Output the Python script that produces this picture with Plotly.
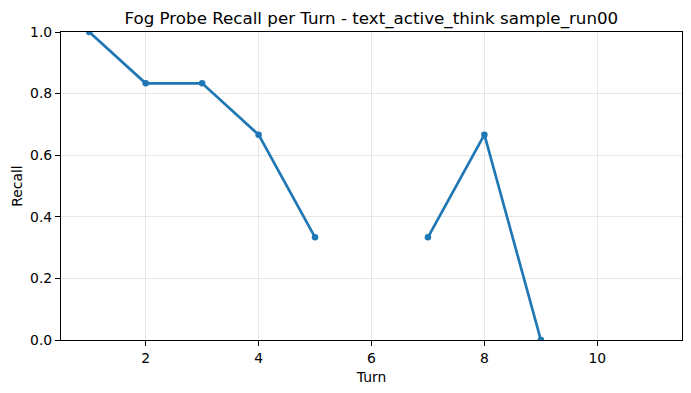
import plotly.graph_objects as go

turns = [1, 2, 3, 4, 5, 6, 7, 8, 9, 10, 11]
recall = [1.0, 0.8333, 0.8333, 0.6667, 0.3333, None, 0.3333, 0.6667, 0.0, None, None]

fig = go.Figure()
fig.add_trace(go.Scatter(
    x=turns, y=recall, mode="lines+markers",
    line=dict(color="#1f77b4", width=2.7),
    marker=dict(color="#1f77b4", size=6.5),
    connectgaps=False, showlegend=False,
))

axis_common = dict(
    showline=True, linecolor="black", linewidth=1.1, mirror=True,
    ticks="outside", ticklen=5, tickwidth=1.1, tickcolor="black",
    showgrid=True, gridcolor="rgba(176,176,176,0.3)", gridwidth=1,
    zeroline=False,
    tickfont=dict(family="DejaVu Sans", size=13.9, color="black"),
)

fig.update_layout(
    width=691, height=393,
    margin=dict(l=61, r=9, t=32, b=53),
    plot_bgcolor="white", paper_bgcolor="white",
    title=dict(text="Fog Probe Recall per Turn - text_active_think sample_run00",
               font=dict(family="DejaVu Sans", size=16.7, color="black"),
               x=(61 + 681.7) / 2 / 691, xanchor="center", y=1 - 18.5 / 393, yanchor="middle"),
    xaxis=dict(range=[0.5, 11.5], tickvals=[2, 4, 6, 8, 10],
               title=dict(text="Turn", font=dict(family="DejaVu Sans", size=13.9, color="black"), standoff=7),
               **axis_common),
    yaxis=dict(range=[0, 1], tickvals=[0, 0.2, 0.4, 0.6, 0.8, 1.0], tickformat=".1f",
               title=dict(text="Recall", font=dict(family="DejaVu Sans", size=13.9, color="black"), standoff=4),
               **axis_common),
)

fig.write_html("out.html")
